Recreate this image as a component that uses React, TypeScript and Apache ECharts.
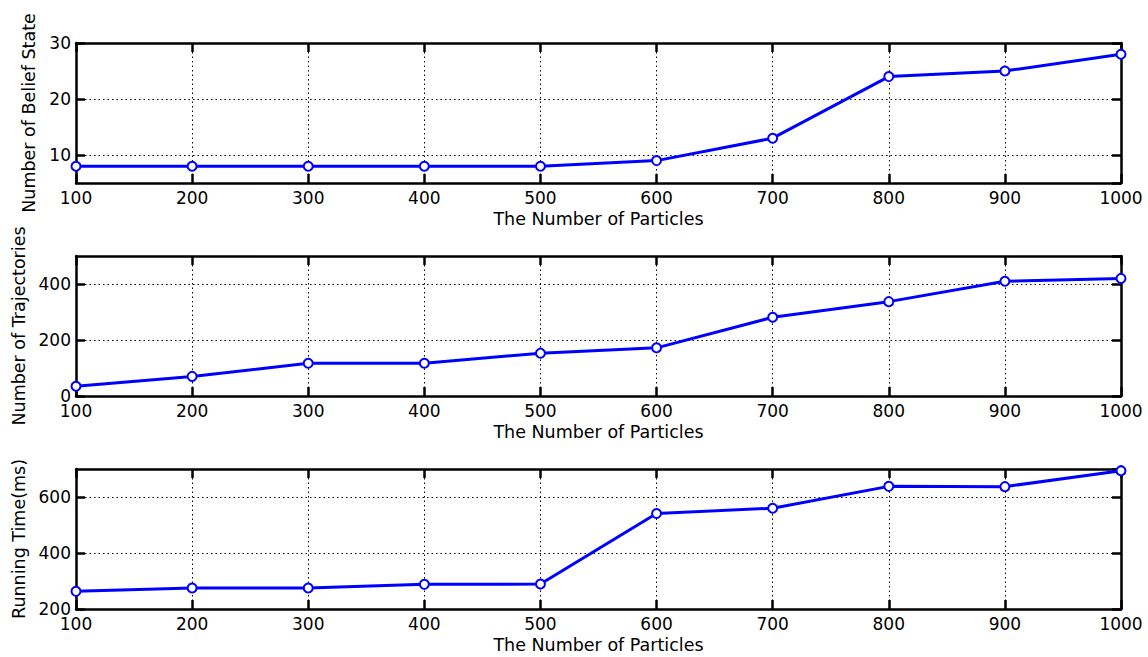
import React, { useEffect, useRef } from "react";
import * as echarts from "echarts";

const particles = [100, 200, 300, 400, 500, 600, 700, 800, 900, 1000];
const beliefStates = [8, 8, 8, 8, 8, 9, 13, 24, 25, 28];
const trajectories = [35, 70, 117, 117, 153, 172, 281, 337, 410, 420];
const runningTime = [263, 275, 275, 288, 289, 541, 560, 638, 637, 694];

const xName = "The Number of Particles";
const yNames = ["Number of Belief State", "Number of Trajectories", "Running Time(ms)"];
const yRanges = [
  { min: 5, max: 30, interval: undefined as number | undefined },
  { min: 0, max: 500, interval: 200 },
  { min: 200, max: 700, interval: 200 },
];
const seriesValues = [beliefStates, trajectories, runningTime];

const FONT = "DejaVu Sans";
const gridTops = [43, 256, 469];
const nameGaps = [31, 37, 42];

export default function App() {
  const ref = useRef<HTMLDivElement>(null);
  useEffect(() => {
    if (!ref.current) return;
    const chart = echarts.init(ref.current, null, { renderer: "svg" });
    const lineStyle = { color: "#000", width: 2.5 };
    const tickStyle = { color: "#000", width: 2.5 };
    const grids = gridTops.map((top) => ({ left: 76, width: 1045, top, height: 140, show: false }));
    const xAxes: any[] = [];
    const yAxes: any[] = [];
    for (let i = 0; i < 3; i++) {
      xAxes.push({
        type: "value",
        gridIndex: i,
        position: "bottom",
        min: 100,
        max: 1000,
        interval: 100,
        name: xName,
        nameLocation: "middle",
        nameGap: 27,
        nameTextStyle: { fontFamily: FONT, fontSize: 17.5, color: "#000" },
        axisLine: { show: true, onZero: false, lineStyle },
        axisTick: { show: true, inside: true, length: 9, lineStyle: tickStyle },
        axisLabel: {
          fontFamily: FONT,
          fontSize: 17,
          color: "#000",
          margin: 6,
          formatter: (v: number) => String(v),
        },
        splitLine: { show: true, lineStyle: { color: "#000", width: 1, type: [1.5, 3] } },
      });
    }
    for (let i = 0; i < 3; i++) {
      xAxes.push({
        type: "value",
        gridIndex: i,
        position: "top",
        min: 100,
        max: 1000,
        interval: 100,
        axisLine: { show: true, onZero: false, lineStyle },
        axisTick: { show: true, inside: true, length: 9, lineStyle: tickStyle },
        axisLabel: { show: false },
        splitLine: { show: false },
      });
    }
    for (let i = 0; i < 3; i++) {
      const r = yRanges[i];
      yAxes.push({
        type: "value",
        gridIndex: i,
        position: "left",
        min: r.min,
        max: r.max,
        interval: r.interval,
        splitNumber: 3,
        name: yNames[i],
        nameLocation: "middle",
        nameGap: nameGaps[i],
        nameTextStyle: { fontFamily: FONT, fontSize: 17.5, color: "#000" },
        axisLine: { show: true, onZero: false, lineStyle },
        axisTick: { show: true, inside: true, length: 9, lineStyle: tickStyle },
        axisLabel: {
          fontFamily: FONT,
          fontSize: 17,
          color: "#000",
          margin: 5,
          showMinLabel: i !== 0,
          showMaxLabel: i === 0,
          formatter: (v: number) => String(v),
        },
        splitLine: { show: true, lineStyle: { color: "#000", width: 1, type: [1.5, 3] } },
      });
    }
    for (let i = 0; i < 3; i++) {
      const r = yRanges[i];
      yAxes.push({
        type: "value",
        gridIndex: i,
        position: "right",
        min: r.min,
        max: r.max,
        interval: r.interval,
        splitNumber: 3,
        axisLine: { show: true, onZero: false, lineStyle },
        axisTick: { show: true, inside: true, length: 9, lineStyle: tickStyle },
        axisLabel: { show: false },
        splitLine: { show: false },
      });
    }
    const series = seriesValues.map((vals, i) => ({
      type: "line",
      xAxisIndex: i,
      yAxisIndex: i,
      data: particles.map((p, k) => [p, vals[k]]),
      symbol: "emptyCircle",
      symbolSize: 9,
      lineStyle: { color: "#0000ff", width: 3 },
      itemStyle: { color: "#0000ff", borderColor: "#0000ff", borderWidth: 2 },
      z: 5,
    }));
    chart.setOption({
      animation: false,
      backgroundColor: "#fff",
      grid: grids,
      xAxis: xAxes,
      yAxis: yAxes,
      series,
    });
    return () => chart.dispose();
  }, []);
  return (
    <div
      ref={ref}
      style={{ position: "absolute", left: 0, top: 0, width: 1148, height: 657, background: "#fff" }}
    />
  );
}
